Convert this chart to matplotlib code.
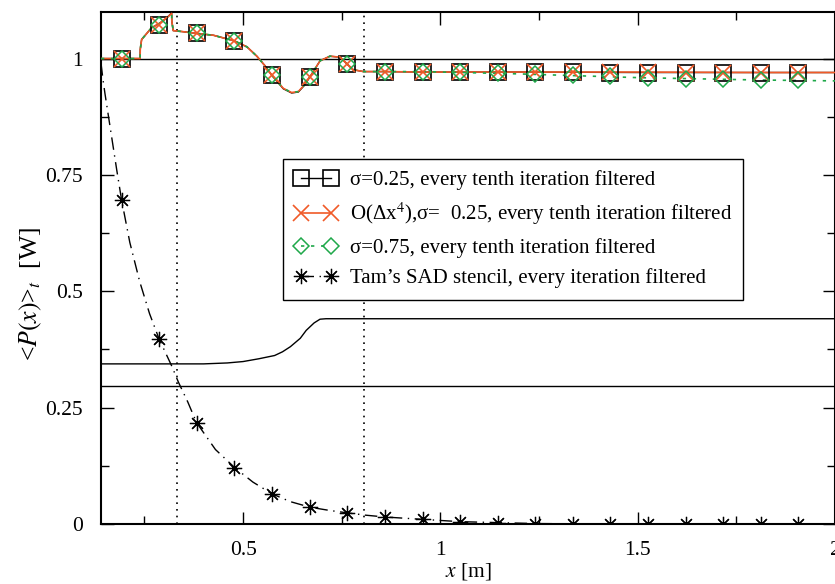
import matplotlib
matplotlib.use('Agg')
import matplotlib.pyplot as plt
from matplotlib.lines import Line2D
from matplotlib.ticker import MultipleLocator, FormatStrFormatter

plt.rcParams['font.family'] = ['Liberation Serif', 'DejaVu Serif']
plt.rcParams['mathtext.fontset'] = 'stix'

# --- data ------------------------------------------------------------------
# sampled positions where markers are drawn
mark_x = [0.192, 0.287, 0.383, 0.478, 0.573, 0.669, 0.764, 0.860, 0.955, 1.050,
          1.145, 1.240, 1.335, 1.430, 1.527, 1.622, 1.717, 1.812, 1.907]

# sigma = 0.25 (black, squares)
sq_y = [0.999, 1.072, 1.054, 1.038, 0.964, 0.960, 0.988, 0.972, 0.971, 0.971,
        0.971, 0.971, 0.971, 0.970, 0.970, 0.970, 0.970, 0.970, 0.970]
line_x = [0.14, 0.239, 0.2395, 0.243, 0.268, 0.287, 0.305, 0.319, 0.3195, 0.323,
          0.345, 0.383, 0.425, 0.478, 0.51, 0.535, 0.555, 0.573, 0.602, 0.623,
          0.64, 0.655, 0.669, 0.695, 0.72, 0.746, 0.764, 0.779, 0.805, 0.86,
          0.955, 1.2, 1.5, 1.8, 2.0]
sq_line_y = [1.0, 1.0, 1.02, 1.041, 1.066, 1.075, 1.086, 1.098, 1.08, 1.060,
             1.058, 1.054, 1.050, 1.038, 1.025, 1.005, 0.985, 0.964, 0.935, 0.926,
             0.928, 0.942, 0.960, 0.995, 1.005, 1.003, 0.988, 0.976, 0.972, 0.972,
             0.971, 0.971, 0.970, 0.970, 0.970]

# O(dx^4), sigma = 0.25 (red, crosses)
o4_y = [0.999, 1.072, 1.054, 1.038, 0.964, 0.960, 0.988, 0.972, 0.971, 0.971,
        0.971, 0.971, 0.971, 0.971, 0.971, 0.970, 0.970, 0.970, 0.970]
o4_line_y = [1.0, 1.0, 1.02, 1.041, 1.066, 1.075, 1.086, 1.097, 1.08, 1.060,
             1.058, 1.054, 1.050, 1.038, 1.025, 1.005, 0.985, 0.964, 0.936, 0.927,
             0.929, 0.943, 0.960, 0.995, 1.005, 1.003, 0.988, 0.976, 0.972, 0.972,
             0.971, 0.971, 0.971, 0.970, 0.970]

# sigma = 0.75 (green, diamonds)
s75_y = [0.999, 1.072, 1.054, 1.038, 0.964, 0.960, 0.988, 0.972, 0.972, 0.971,
         0.969, 0.966, 0.964, 0.962, 0.958, 0.956, 0.955, 0.953, 0.953]
s75_line_y = [1.0, 1.0, 1.02, 1.041, 1.066, 1.075, 1.086, 1.097, 1.08, 1.060,
              1.058, 1.054, 1.050, 1.038, 1.025, 1.005, 0.985, 0.964, 0.936, 0.927,
              0.929, 0.943, 0.960, 0.995, 1.005, 1.003, 0.988, 0.976, 0.972, 0.972,
              0.972, 0.967, 0.959, 0.954, 0.952]

# Tam's SAD stencil (black, stars)
tam_y = [0.697, 0.398, 0.218, 0.121, 0.0645, 0.036, 0.024, 0.015, 0.010, 0.005,
         0.003, 0.001, 0.0, 0.0, 0.0, 0.0, 0.0, 0.0, 0.0]
tam_line_x = [0.14, 0.145, 0.15, 0.16, 0.17, 0.18, 0.192, 0.213, 0.238, 0.263,
              0.287, 0.32, 0.336, 0.36, 0.382, 0.43, 0.479, 0.525, 0.574, 0.62,
              0.670, 0.72, 0.764, 0.81, 0.860, 0.955, 1.05, 1.145, 1.24, 1.4, 2.0]
tam_line_y = [0.99, 0.955, 0.925, 0.87, 0.815, 0.76, 0.697, 0.605, 0.521, 0.452,
              0.398, 0.338, 0.305, 0.262, 0.218, 0.160, 0.121, 0.090, 0.0645, 0.048,
              0.036, 0.029, 0.024, 0.019, 0.015, 0.010, 0.005, 0.003, 0.001, 0.0, 0.0]

# reference curve (step-like) and horizontal references
step_x = [0.14, 0.40, 0.46, 0.50, 0.54, 0.58, 0.60, 0.62, 0.645, 0.66, 0.68,
          0.695, 0.71, 2.0]
step_y = [0.344, 0.344, 0.346, 0.349, 0.355, 0.362, 0.370, 0.381, 0.399, 0.416,
          0.432, 0.440, 0.441, 0.441]
hlines_y = [1.0, 0.297]
vlines_x = [0.332, 0.807]

red = '#f05a28'
green = '#1fa84a'

fig = plt.figure(figsize=(8.35, 5.84), dpi=100)
ax = fig.add_axes([101 / 835, 60 / 584, 734 / 835, 512 / 584])

for y in hlines_y:
    ax.axhline(y, color='black', lw=1.0, zorder=1)
for x in vlines_x:
    ax.axvline(x, color='black', lw=1.2, ls=(0, (1, 3)), zorder=1)
ax.plot(step_x, step_y, color='black', lw=1.0, zorder=1)

# curves
ax.plot(line_x, sq_line_y, color='black', lw=1.0, zorder=2)
ax.plot(line_x, o4_line_y, color=red, lw=1.2, zorder=3)
ax.plot(line_x, s75_line_y, color=green, lw=1.2, ls=(0, (2, 4)), zorder=4)
ax.plot(tam_line_x, tam_line_y, color='black', lw=1.0, ls=(0, (9, 4, 1, 4)), zorder=2)

# markers
star = (8, 2, 0)
ax.plot(mark_x, sq_y, ls='none', marker='s', ms=12, mfc='none', mec='black', mew=1.2, zorder=5)
ax.plot(mark_x, o4_y, ls='none', marker='x', ms=11, mec=red, mew=1.2, zorder=6)
ax.plot(mark_x, s75_y, ls='none', marker='D', ms=8.5, mfc='none', mec=green, mew=1.1, zorder=7)
ax.plot(mark_x, tam_y, ls='none', marker=star, ms=11, mec='black', mew=0.9, zorder=5)

ax.set_xlim(0.14, 2.0)
ax.set_ylim(0, 1.1)
ax.xaxis.set_major_locator(MultipleLocator(0.5))
ax.xaxis.set_minor_locator(MultipleLocator(0.25))
ax.yaxis.set_major_locator(MultipleLocator(0.25))
ax.yaxis.set_minor_locator(MultipleLocator(0.125))
ax.xaxis.set_major_formatter(FormatStrFormatter('%g'))
ax.yaxis.set_major_formatter(FormatStrFormatter('%g'))
ax.tick_params(which='both', direction='in', top=True, right=True, labelsize=15.5)
ax.tick_params(which='major', length=9, width=1.0)
ax.tick_params(which='minor', length=5.5, width=1.0)
ax.tick_params(axis='y', which='major', pad=13)
ax.tick_params(axis='x', which='major', pad=12)
for s in ax.spines.values():
    s.set_linewidth(1.5)

ax.set_xlabel('$x$ [m]', fontsize=15.5, labelpad=1)
ax.set_ylabel('<$P(x)$>$_t$  [W]', fontsize=18.5)
ax.yaxis.set_label_coords(-0.077, 0.45)

handles = [
    Line2D([], [], color='black', lw=1.0, marker='s', ms=12, mfc='none', mec='black', mew=1.2),
    Line2D([], [], color=red, lw=1.2, marker='x', ms=11, mec=red, mew=1.2),
    Line2D([], [], color=green, lw=1.2, ls=(0, (2, 4)), marker='D', ms=8.5, mfc='none', mec=green, mew=1.1),
    Line2D([], [], color='black', lw=1.0, ls=(0, (9, 4, 1, 4)), marker=star, ms=11, mec='black', mew=0.9),
]
labels = [
    'σ=0.25, every tenth iteration filtered',
    'O(Δx$^4$),σ=  0.25, every tenth iteration filtered',
    'σ=0.75, every tenth iteration filtered',
    'Tam’s SAD stencil, every iteration filtered',
]
leg = ax.legend(handles, labels, loc='upper left', bbox_to_anchor=(283 / 835, 1 - 159 / 584),
                bbox_transform=fig.transFigure, borderaxespad=0, numpoints=2, fontsize=15,
                handlelength=2.05, handletextpad=0.6, borderpad=0.55, labelspacing=0.5,
                fancybox=False, framealpha=1, edgecolor='black')
leg.get_frame().set_linewidth(1.0)

fig.savefig('out.png', dpi=100)
